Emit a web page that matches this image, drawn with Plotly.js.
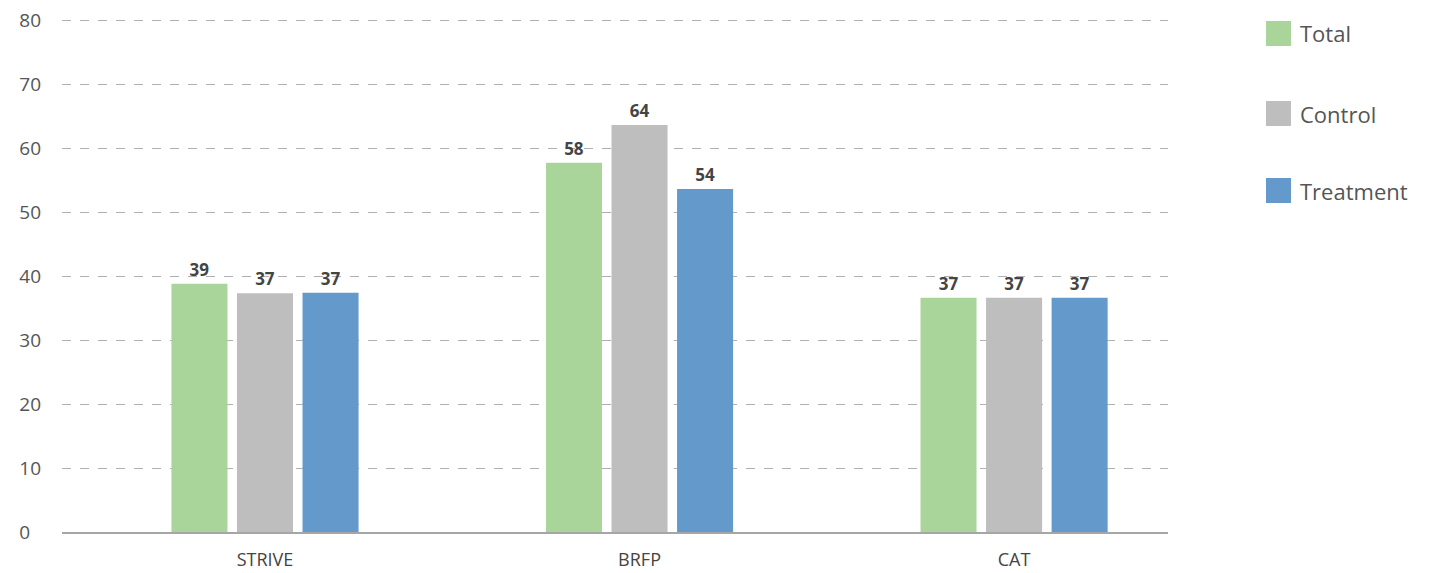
<!DOCTYPE html>
<html>
<head>
<meta charset="utf-8">
<script src="https://cdn.plot.ly/plotly-3.0.1.min.js"></script>
<style>
  html, body { margin: 0; padding: 0; background: #fff; }
  #chart { width: 1430px; height: 573px; }
</style>
</head>
<body>
<div id="chart"></div>
<script>
// ---- data ----
const categories = ['STRIVE', 'BRFP', 'CAT'];
const seriesNames = ['Total', 'Control', 'Treatment'];
const totalValues = [38.8, 57.7, 36.6];
const controlValues = [37.3, 63.6, 36.6];
const treatmentValues = [37.4, 53.6, 36.6];
const yTickValues = [0, 10, 20, 30, 40, 50, 60, 70, 80];
const yTickLabels = ['0', '10', '20', '30', '40', '50', '60', '70', '80'];

const colors = ['#A9D59A', '#BEBEBE', '#6399CB'];
const seriesValues = [totalValues, controlValues, treatmentValues];
const FONT = '"Open Sans", Lato, sans-serif';

const traces = seriesValues.map((vals, i) => ({
  type: 'bar',
  name: seriesNames[i],
  x: categories,
  y: vals,
  marker: { color: colors[i] },
  text: vals.map(v => Math.round(v).toString()),
  textposition: 'outside',
  cliponaxis: false,
  textfont: { family: FONT, size: 17, color: '#444', weight: 'bold' },
  hoverinfo: 'x+y+name'
}));

// plot area in pixels
const L = 62, R = 262, T = 14, B = 41;
const W = 1430 - L - R, H = 573 - T - B;
const px2x = p => (p - L) / W;
const py2y = p => (573 - B - p) / H;

const legendTops = [21, 101, 178];
const shapes = [];
const annotations = [];
seriesNames.forEach((n, i) => {
  const top = legendTops[i];
  shapes.push({
    type: 'rect', xref: 'paper', yref: 'paper',
    x0: px2x(1266), x1: px2x(1291), y0: py2y(top + 25), y1: py2y(top),
    fillcolor: colors[i], line: { width: 0 }
  });
  annotations.push({
    xref: 'paper', yref: 'paper', x: px2x(1298), y: py2y(top + 12.5),
    xanchor: 'left', yanchor: 'middle', showarrow: false,
    text: n, font: { family: FONT, size: 22, color: '#555' }
  });
});

// left-align the y tick labels by padding short ones with figure spaces
const maxLen = Math.max(...yTickLabels.map(s => s.length));
const paddedY = yTickLabels.map(s => s + '\u2007'.repeat(maxLen - s.length));

const layout = {
  width: 1430, height: 573,
  margin: { l: L, r: R, t: T, b: B, pad: 0 },
  paper_bgcolor: '#fff', plot_bgcolor: '#fff',
  showlegend: false,
  barmode: 'group',
  bargap: 0.475,
  bargroupgap: 0.145,
  font: { family: FONT, color: '#555' },
  xaxis: {
    type: 'category',
    range: [-0.542, 2.411],
    showgrid: false,
    showline: true, linecolor: '#a6a6a6', linewidth: 2,
    ticks: '', ticklabelstandoff: 10,
    tickfont: { family: FONT, size: 18, color: '#444' },
    zeroline: false, fixedrange: true
  },
  yaxis: {
    range: [0, 80.94],
    tickvals: yTickValues, ticktext: paddedY,
    showgrid: true, gridcolor: '#b0b0b0', griddash: 'dash', gridwidth: 1,
    zeroline: false, showline: false,
    ticks: '', ticklabelstandoff: 20,
    tickfont: { family: FONT, size: 19, color: '#555' },
    fixedrange: true
  },
  shapes: shapes,
  annotations: annotations
};

Plotly.newPlot('chart', traces, layout, { displayModeBar: false, staticPlot: false });
</script>
</body>
</html>
